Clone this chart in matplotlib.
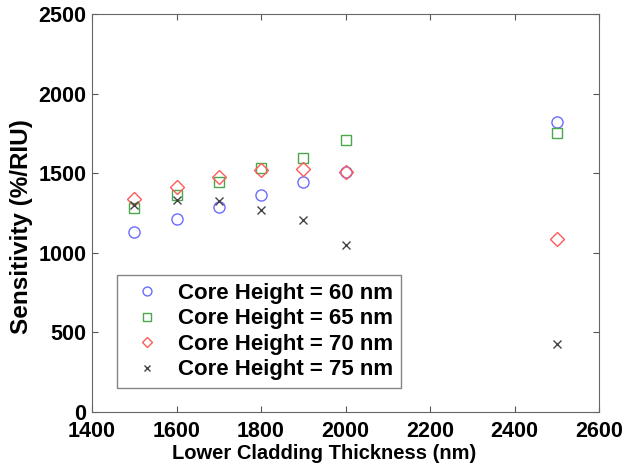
import matplotlib.pyplot as plt

thickness = [1500, 1600, 1700, 1800, 1900, 2000, 2500]
sens_60 = [1132, 1214, 1290, 1365, 1443, 1510, 1820]
sens_65 = [1279, 1363, 1447, 1530, 1595, 1710, 1750]
sens_70 = [1338, 1411, 1474, 1520, 1526, 1510, 1085]
sens_75 = [1300, 1332, 1323, 1269, 1206, 1052, 428]

plt.rcParams["font.family"] = ["Liberation Sans", "DejaVu Sans"]
plt.rcParams["font.weight"] = "bold"

fig = plt.figure(figsize=(6.25, 4.71), dpi=100)
ax = fig.add_axes([0.1472, 0.1253, 0.8112, 0.845])

ax.plot(thickness, sens_60, "o", mfc="none", mec="#6b6bff", ms=8, mew=1.0,
        label="Core Height = 60 nm")
ax.plot(thickness, sens_65, "s", mfc="none", mec="#4aa84a", ms=7, mew=1.0,
        label="Core Height = 65 nm")
ax.plot(thickness, sens_70, "D", mfc="none", mec="#ff5a5a", ms=7, mew=1.0,
        label="Core Height = 70 nm")
ax.plot(thickness, sens_75, "x", color="#444444", ms=6, mew=1.0,
        label="Core Height = 75 nm")

ax.set_xlim(1400, 2600)
ax.set_ylim(0, 2500)
ax.set_xticks(range(1400, 2601, 200))
ax.set_yticks(range(0, 2501, 500))
ax.tick_params(direction="in", top=True, right=True, length=4,
               labelsize=15.5, color="#555555")
ax.tick_params(axis="x", pad=6.5)
ax.tick_params(axis="y", pad=4)
for lbl in ax.get_xticklabels() + ax.get_yticklabels():
    lbl.set_fontweight("bold")
for sp in ax.spines.values():
    sp.set_color("#666666")

ax.set_xlabel("Lower Cladding Thickness (nm)", fontsize=14.5, fontweight="bold")
ax.set_ylabel("Sensitivity (%/RIU)", fontsize=17.5, fontweight="bold")
ax.xaxis.set_label_coords(0.458, -0.08)
ax.yaxis.set_label_coords(-0.116, 0.467)

leg = ax.legend(loc="lower left", bbox_to_anchor=(0.049, 0.060), fontsize=16,
                borderaxespad=0, frameon=True, fancybox=False,
                edgecolor="#666666", markerscale=0.8, handletextpad=0.4,
                borderpad=0.35, labelspacing=0.2)
leg.get_frame().set_linewidth(1.0)
for t in leg.get_texts():
    t.set_fontweight("bold")

fig.savefig("out.png", dpi=100)
